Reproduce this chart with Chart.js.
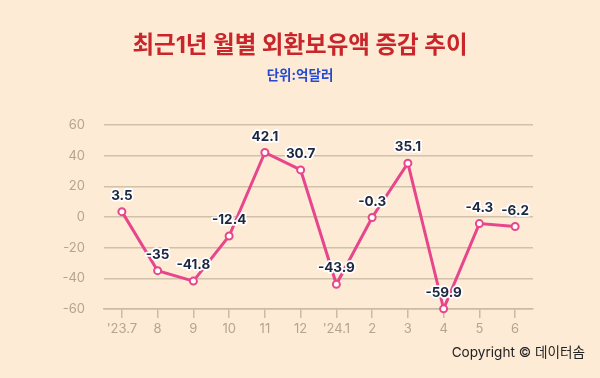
<!DOCTYPE html>
<html><head><meta charset="utf-8">
<script src="https://cdn.jsdelivr.net/npm/chart.js@4"></script>
<style>
html,body{margin:0;padding:0;background:#FDEBD6;}
#wrap{position:relative;width:600px;height:378px;overflow:hidden;}
canvas{position:absolute;left:0;top:0;}
.t{position:absolute;left:0;width:600px;text-align:center;font-family:Inter,'Noto Sans CJK KR',sans-serif;}
#title{top:29px;font-size:23.5px;font-weight:700;color:#C8262A;line-height:32px;}
#sub{top:65px;font-size:13.5px;font-weight:700;color:#2549D0;line-height:20px;}
#copy{position:absolute;right:15px;top:342px;font-size:13.6px;color:#222;font-family:Inter,'Noto Sans CJK KR',sans-serif;line-height:20px;}
</style></head>
<body><div id="wrap">
<canvas id="c" width="600" height="378"></canvas>
<div class="t" id="title">최근1년 월별 외환보유액 증감 추이</div>
<div class="t" id="sub">단위:억달러</div>
<div id="copy">Copyright © 데이터솜</div>
</div>
<script>
const categories = ["'23.7","8","9","10","11","12","'24.1","2","3","4","5","6"];
const changes = [3.5,-35,-41.8,-12.4,42.1,30.7,-43.9,-0.3,35.1,-59.9,-4.3,-6.2];
const yTicks = [60,40,20,0,-20,-40,-60];

const labelPlugin = {
  id:'vlabels',
  afterDatasetsDraw(chart){
    const ctx = chart.ctx;
    const meta = chart.getDatasetMeta(0);
    ctx.save();
    ctx.font = '700 13.5px Inter, "Noto Sans CJK KR", sans-serif';
    ctx.textAlign='center'; ctx.textBaseline='middle';
    ctx.lineJoin='round';
    meta.data.forEach((pt,i)=>{
      const txt = String(changes[i]);
      const x = pt.x, y = pt.y - 16;
      ctx.strokeStyle='#ffffff'; ctx.lineWidth=3.5;
      ctx.strokeText(txt,x,y);
      ctx.fillStyle='#1E2740';
      ctx.fillText(txt,x,y);
    });
    ctx.restore();
  }
};

new Chart(document.getElementById('c'),{
  type:'line',
  data:{labels:categories,datasets:[{
    data:changes,
    borderColor:'#E8468C',
    borderWidth:3,
    pointRadius:3.5,
    pointBorderWidth:2,
    pointBackgroundColor:'#ffffff',
    pointBorderColor:'#E8468C',
    tension:0,
    clip:false
  }]},
  options:{
    responsive:false,animation:false,
    layout:{padding:{top:125,right:67,left:0,bottom:0}},
    plugins:{legend:{display:false},tooltip:{enabled:false},title:{display:false}},
    scales:{
      x:{
        offset:true,
        afterFit(s){s.height=69;},
        grid:{drawOnChartArea:false,drawTicks:true,tickLength:9,color:'#C9BBA5',lineWidth:1.5},
        border:{display:true,color:'#C9BBA5',width:1.5},
        ticks:{color:'#B3A592',font:{family:'Inter',size:13},padding:3,maxRotation:0,minRotation:0,autoSkip:false}
      },
      y:{
        min:-60,max:60,
        afterFit(s){s.width=104;},
        afterBuildTicks(s){s.ticks=yTicks.map(v=>({value:v}));},
        grid:{drawTicks:false,color:'#D0C1A9',lineWidth:1.5},
        border:{display:false},
        ticks:{color:'#B3A592',font:{family:'Inter',size:13},padding:19}
      }
    }
  },
  plugins:[labelPlugin]
});
</script>
</body></html>
